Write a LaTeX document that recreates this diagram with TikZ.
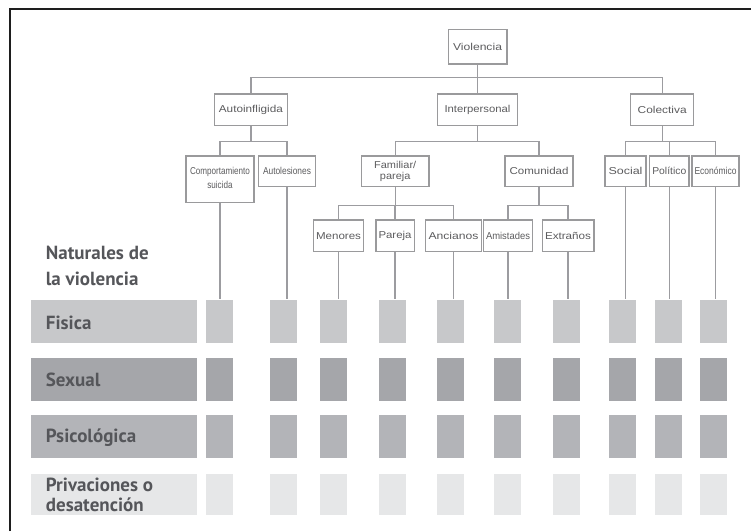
\documentclass[tikz,border=0pt]{standalone}
\usepackage{fontspec}
\setmainfont{Liberation Sans}
\newfontfamily\labfont{PT Sans}
\usepackage{graphicx}
\definecolor{frame}{HTML}{1E1E1E}
\definecolor{boxgray}{HTML}{9A9A9C}
\definecolor{linegray}{HTML}{9C9CA0}
\definecolor{txtgray}{HTML}{5C5C5E}
\definecolor{labtxt}{HTML}{55565A}
\definecolor{cfis}{HTML}{C7C8CA}
\definecolor{csex}{HTML}{A5A6AA}
\definecolor{cpsi}{HTML}{B3B4B8}
\definecolor{cpri}{HTML}{E6E7E8}
\newcommand{\fitw}[2]{\resizebox{#1pt}{\height}{#2}}
\newcommand{\bx}[6]{\node[tbox,minimum width=#4pt,minimum height=#5pt] (#1) at (#2,#3) {#6};}
\begin{document}
\begin{tikzpicture}[x=1pt,y=-1pt,
  tbox/.style={draw=boxgray,line width=1.3pt,fill=white,inner sep=0pt,text=txtgray,font=\fontsize{10}{11}\selectfont},
  conn/.style={draw=linegray,line width=1.3pt},
  bar/.style={inner sep=0pt,anchor=north west,minimum height=43pt},
  sqr/.style={inner sep=0pt,anchor=north west,minimum width=27pt,minimum height=43pt},
  lab/.style={anchor=base west,inner sep=0pt,text=labtxt,font=\labfont\bfseries\fontsize{19}{20}\selectfont}]
\useasboundingbox (0,0) rectangle (751,531);
% frame
\draw[frame,line width=2.2pt] (9.7,531) -- (9.7,8.7) -- (751,8.7);
% tree boxes
\bx{viol}{477.5}{46.7}{58.7}{34.7}{\fitw{49}{Violencia}}
\bx{auto}{250.9}{109.8}{72.5}{31.7}{\fitw{64}{Autoinfligida}}
\bx{inter}{477.5}{109.8}{80}{31.7}{\fitw{66}{Interpersonal}}
\bx{colec}{662.2}{109.8}{63}{31.7}{\fitw{49}{Colectiva}}
\bx{comp}{220}{179.2}{68.2}{46.3}{\fitw{60}{\begin{tabular}{@{}c@{}}Comportamiento\\[3pt]suicida\end{tabular}}}
\bx{autol}{287}{171.3}{57.2}{30.7}{\fitw{48}{Autolesiones}}
\bx{fam}{395.2}{171.3}{67.5}{30.7}{\fitw{42}{\begin{tabular}{@{}c@{}}Familiar/\\pareja\end{tabular}}}
\bx{comu}{539}{171.3}{68}{30.7}{\fitw{59}{Comunidad}}
\bx{soc}{625.5}{171.3}{41}{30.7}{\fitw{34}{Social}}
\bx{pol}{669.3}{171.3}{39.4}{30.7}{\fitw{34}{Político}}
\bx{eco}{715.5}{171.3}{47}{30.7}{\fitw{42}{Económico}}
\bx{men}{338.5}{235.8}{49.4}{31.7}{\fitw{45}{Menores}}
\bx{par}{395}{235.8}{38.3}{31.7}{\fitw{33}{Pareja}}
\bx{anc}{453.5}{235.8}{56}{31.7}{\fitw{50}{Ancianos}}
\bx{ami}{508}{235.8}{49.3}{31.7}{\fitw{44}{Amistades}}
\bx{ext}{568}{235.8}{51.7}{31.7}{\fitw{46}{Extraños}}
% tree connectors
\draw[conn] (viol.south) -- ++(0,12.7) -| (auto.north);
\draw[conn] (viol.south) -- ++(0,12.7) -| (colec.north);
\draw[conn] (viol.south) -- (inter.north);
\draw[conn] (auto.south) -- ++(0,15) -| (comp.north);
\draw[conn] (auto.south) -- ++(0,15) -| (autol.north);
\draw[conn] (inter.south) -- ++(0,15) -| (fam.north);
\draw[conn] (inter.south) -- ++(0,15) -| (comu.north);
\draw[conn] (colec.south) -- ++(0,15) -| (soc.north);
\draw[conn] (colec.south) -- ++(0,15) -| (pol.north);
\draw[conn] (colec.south) -- ++(0,15) -| (eco.north);
\draw[conn] (fam.south) -- ++(0,18.3) -| (men.north);
\draw[conn] (fam.south) -- ++(0,18.3) -| (par.north);
\draw[conn] (fam.south) -- ++(0,18.3) -| (anc.north);
\draw[conn] (comu.south) -- ++(0,18.3) -| (ami.north);
\draw[conn] (comu.south) -- ++(0,18.3) -| (ext.north);
% label bars
\node[bar,fill=cfis,minimum width=165.7pt] (bfis) at (31,299.3) {};
\node[bar,fill=csex,minimum width=165.7pt] (bsex) at (31,357.3) {};
\node[bar,fill=cpsi,minimum width=165.7pt] (bpsi) at (31,415.2) {};
\node[bar,fill=cpri,minimum width=165.7pt,minimum height=41.7pt] (bpri) at (31,473.3) {};
% squares
\foreach \c/\x in {1/205.7,2/269.3,3/320,4/378.3,5/436.7,6/494,7/552.7,8/608.3,9/654.5,10/699.3}{
  \node[sqr,fill=cfis] (s\c-1) at (\x,299.3) {};
  \node[sqr,fill=csex] (s\c-2) at (\x,357.3) {};
  \node[sqr,fill=cpsi] (s\c-3) at (\x,415.2) {};
  \node[sqr,fill=cpri,minimum height=41.7pt] (s\c-4) at (\x,473.3) {};
}
% leaf connectors down to the first row
\foreach \n/\c in {comp/1,autol/2,men/3,par/4,anc/5,ami/6,ext/7,soc/8,pol/9,eco/10}{
  \draw[conn] (\n.south) -- (\n.south |- s\c-1.north);
}
% texts
\node[lab] (tnat1) at (45.7,259.3) {Naturales de};
\node[lab] (tnat2) at (45.7,285) {la violencia};
\node[lab] (tfis) at (45.7,329) {Fisica};
\node[lab] (tsex) at (45.7,386.7) {Sexual};
\node[lab] (tpsi) at (45.7,442.7) {Psicológica};
\node[lab] (tpri1) at (45.7,491.7) {Privaciones o};
\node[lab] (tpri2) at (45.7,511.7) {desatención};
\end{tikzpicture}
\end{document}
